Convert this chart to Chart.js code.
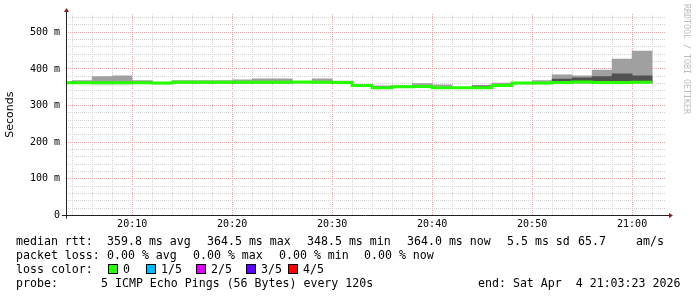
<!DOCTYPE html>
<html>
<head>
<meta charset="utf-8">
<script src="https://cdn.jsdelivr.net/npm/chart.js@4"></script>
<style>
  html, body { margin: 0; padding: 0; background: #fff; }
  #wrap { position: relative; width: 697px; height: 297px; overflow: hidden; background: #fff; }
  #graph { position: absolute; left: 0; top: 0; }
  .lg { position: absolute; font: 11.6px "DejaVu Sans Mono", monospace; color: #000; white-space: pre; line-height: 14px; }
  .box { position: absolute; width: 8px; height: 8px; border: 1px solid #000; }
  #credit { position: absolute; left: 682px; top: 4px; writing-mode: vertical-rl; font: 8.3px "DejaVu Sans Mono", monospace; color: #bdbdbd; line-height: 10px; }
</style>
</head>
<body>
<div id="wrap">
  <canvas id="graph" width="697" height="297"></canvas>
  <div id="credit">RRDTOOL / TOBI OETIKER</div>

  <div class="lg" style="left:16px;top:234px">median rtt:</div>
  <div class="lg" style="left:107px;top:234px">359.8 ms avg</div>
  <div class="lg" style="left:207px;top:234px">364.5 ms max</div>
  <div class="lg" style="left:307px;top:234px">348.5 ms min</div>
  <div class="lg" style="left:407px;top:234px">364.0 ms now</div>
  <div class="lg" style="left:507px;top:234px">5.5 ms sd</div>
  <div class="lg" style="left:578px;top:234px">65.7</div>
  <div class="lg" style="left:636px;top:234px">am/s</div>

  <div class="lg" style="left:16px;top:248px">packet loss:</div>
  <div class="lg" style="left:107px;top:248px">0.00 % avg</div>
  <div class="lg" style="left:193px;top:248px">0.00 % max</div>
  <div class="lg" style="left:279px;top:248px">0.00 % min</div>
  <div class="lg" style="left:364px;top:248px">0.00 % now</div>

  <div class="lg" style="left:16px;top:262px">loss color:</div>
  <div id="lossLegend"></div>

  <div class="lg" style="left:16px;top:276px">probe:</div>
  <div class="lg" style="left:101px;top:276px">5 ICMP Echo Pings (56 Bytes) every 120s</div>
  <div class="lg" style="left:478px;top:276px">end: Sat Apr  4 21:03:23 2026</div>
</div>
<script>
// time axis in minutes after 20:00, one bin every 2 minutes
const startHour = 20;
const binWidth = 2;
const binMinutes = [2, 4, 6, 8, 10, 12, 14, 16, 18, 20, 22, 24, 26, 28, 30,
                    32, 34, 36, 38, 40, 42, 44, 46, 48, 50, 52, 54, 56, 58, 60];

// median rtt per bin (ms)
const medianRtt = [362.5, 362.5, 362.5, 362.5, 362.5, 361.5, 363.5, 363.5, 363.5, 363.5, 363.5, 363.5, 364.5, 364, 363,
                   355, 349, 351.5, 352, 348.5, 348.5, 348.5, 355, 361.5, 361.5, 363, 364.5, 363, 363, 364];

// outer smoke (min..max ping) and inner smoke (2nd..4th ping), ms
const smokeLow  = [360, 360, 359, 359, 360, 359, 361, 361, 361, 361, 361, 361, 362, 361, 360,
                   352, 346, 349, 349, 346, 346, 346, 352, 359, 359, 360, 361, 360, 360, 361];
const smokeHigh = [364, 368, 379, 381.5, 368, 363, 368, 368, 368, 370.5, 373, 373, 366, 373, 367,
                   356.5, 354, 353, 360, 357, 350, 354, 361.5, 363, 368, 384, 381.5, 397, 427, 449];
const coreLow   = [361, 361, 361, 361, 361, 360, 362, 362, 362, 362, 362, 362, 363, 362.5, 361.5,
                   353.5, 347.5, 350, 350.5, 347, 347, 347, 353.5, 360, 360, 361.5, 363, 361.5, 361.5, 362.5];
const coreHigh  = [364, 364, 364, 364, 364, 363, 365, 365, 365, 365, 365, 365, 366, 365.5, 364.5,
                   356.5, 350.5, 353, 353.5, 350, 350, 354, 356.5, 363, 363, 372.5, 376, 379, 387, 381];

const lossLabels = ['0', '1/5', '2/5', '3/5', '4/5'];
const lossColors = ['#26ff00', '#00b8ff', '#dd00ff', '#5e00ff', '#ff0000'];
const lossBoxX = [108, 146, 196, 246, 288];

const yMax = 550, yStep = 20, yMajor = 100;
const xMin = 3.383, xMax = 63.39;

// loss colour legend
const lossLegend = document.getElementById('lossLegend');
lossLabels.forEach((lbl, i) => {
  const b = document.createElement('div');
  b.className = 'box';
  b.style.left = lossBoxX[i] + 'px';
  b.style.top = '264px';
  b.style.background = lossColors[i];
  lossLegend.appendChild(b);
  const t = document.createElement('div');
  t.className = 'lg';
  t.style.left = (lossBoxX[i] + 15) + 'px';
  t.style.top = '262px';
  t.textContent = lbl;
  lossLegend.appendChild(t);
});

const minorGrid = '#d2d2d2';
const majorGrid = '#eaa0a0';
const monoFont = {family: 'DejaVu Sans Mono', size: 10};

// axis lines with rrdtool style arrows
const axisArrows = {
  id: 'axisArrows',
  afterDraw(chart) {
    const {ctx, chartArea: a} = chart;
    const x0 = Math.round(a.left) + 0.5;
    const y0 = Math.round(a.bottom) - 0.5;
    ctx.save();
    ctx.strokeStyle = '#222';
    ctx.lineWidth = 1;
    ctx.beginPath();
    ctx.moveTo(a.left - 4, y0);
    ctx.lineTo(a.right + 3, y0);
    ctx.moveTo(x0, a.bottom + 3);
    ctx.lineTo(x0, a.top - 2);
    ctx.stroke();
    ctx.fillStyle = '#8b1a1a';
    ctx.beginPath();
    ctx.moveTo(a.right + 3, y0 - 2.5);
    ctx.lineTo(a.right + 7, y0);
    ctx.lineTo(a.right + 3, y0 + 2.5);
    ctx.closePath();
    ctx.fill();
    ctx.beginPath();
    ctx.moveTo(x0 - 2.5, a.top - 2);
    ctx.lineTo(x0, a.top - 6);
    ctx.lineTo(x0 + 2.5, a.top - 2);
    ctx.closePath();
    ctx.fill();
    ctx.restore();
  }
};

const medianPoints = binMinutes.map((m, i) => ({x: m, y: medianRtt[i]}));
medianPoints.push({x: binMinutes[binMinutes.length - 1] + binWidth, y: medianRtt[medianRtt.length - 1]});

new Chart(document.getElementById('graph'), {
  type: 'bar',
  data: {
    datasets: [
      {
        type: 'line',
        label: 'median rtt',
        data: medianPoints,
        borderColor: '#26ff00',
        borderWidth: 3,
        stepped: true,
        pointRadius: 0,
        fill: false,
        order: 0
      },
      {
        label: 'inner smoke',
        data: binMinutes.map((m, i) => ({x: m + binWidth / 2, y: [coreLow[i], coreHigh[i]]})),
        backgroundColor: '#525252',
        borderWidth: 0,
        grouped: false,
        barPercentage: 1,
        categoryPercentage: 1,
        order: 1
      },
      {
        label: 'outer smoke',
        data: binMinutes.map((m, i) => ({x: m + binWidth / 2, y: [smokeLow[i], smokeHigh[i]]})),
        backgroundColor: '#a0a0a0',
        borderWidth: 0,
        grouped: false,
        barPercentage: 1,
        categoryPercentage: 1,
        order: 2
      }
    ]
  },
  options: {
    responsive: false,
    animation: false,
    devicePixelRatio: 1,
    layout: {padding: {top: 14, right: 31, left: 0, bottom: 0}},
    plugins: {legend: {display: false}, tooltip: {enabled: false}},
    scales: {
      x: {
        type: 'linear',
        min: xMin,
        max: xMax,
        offset: false,
        afterFit(scale) { scale.height = 81.5; },
        grid: {
          offset: false,
          drawTicks: false,
          color: c => (c.tick && c.tick.value % 10 === 0) ? majorGrid : minorGrid
        },
        border: {display: false, dash: [1, 1]},
        ticks: {
          stepSize: binWidth,
          includeBounds: false,
          autoSkip: false,
          maxRotation: 0,
          padding: 3,
          color: '#000',
          font: monoFont,
          callback: v => {
            if (v % 10 !== 0) return '';
            const t = startHour * 60 + v;
            return String(Math.floor(t / 60)).padStart(2, '0') + ':' + String(t % 60).padStart(2, '0');
          }
        }
      },
      y: {
        min: 0,
        max: yMax,
        afterFit(scale) { scale.width = 66; },
        grid: {
          drawTicks: false,
          color: c => (c.tick && c.tick.value % yMajor === 0) ? majorGrid : minorGrid
        },
        border: {display: false, dash: [1, 1]},
        title: {
          display: true,
          text: 'Seconds',
          color: '#000',
          font: {family: 'DejaVu Sans', size: 11},
          padding: {top: 4, bottom: 0}
        },
        ticks: {
          stepSize: yStep,
          includeBounds: false,
          autoSkip: false,
          padding: 6,
          color: '#000',
          font: monoFont,
          callback: v => v % yMajor !== 0 ? '' : (v === 0 ? '0' : v + ' m')
        }
      }
    }
  },
  plugins: [axisArrows]
});
</script>
</body>
</html>
